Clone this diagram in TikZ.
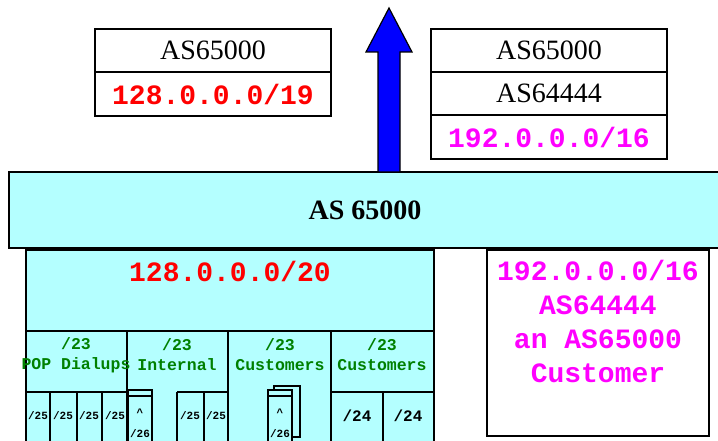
\documentclass[tikz,border=0pt]{standalone}
\usepackage{fontspec}
\usepackage{tikz}
\usetikzlibrary{positioning,calc}
\setmainfont{Liberation Serif}
\setmonofont{Liberation Mono}
\definecolor{asCyan}{HTML}{B4FFFF}
\definecolor{asRed}{HTML}{FF0000}
\definecolor{asMagenta}{HTML}{FF00FF}
\definecolor{asGreen}{HTML}{008000}
\definecolor{asBlue}{HTML}{0000FF}

\begin{document}
\begin{tikzpicture}[x=1pt,y=-1pt,line width=1.5pt,
   box/.style={draw,fill=white,outer sep=0pt,inner sep=0pt,minimum width=236pt,
               font=\fontsize{28}{30}\selectfont},
   ip/.style={inner sep=0pt,font=\fontsize{28}{34}\selectfont\ttfamily\bfseries},
   grp/.style={text=asGreen,align=center,inner sep=0pt,
               font=\fontsize{16.5}{20}\selectfont\ttfamily\bfseries},
   sub/.style={inner sep=0pt,font=\fontsize{11}{12}\selectfont\ttfamily\bfseries}]
  \useasboundingbox (0,0) rectangle (718,441);
  \clip (0,0) rectangle (718,441);

  % announcements going up
  \node[box,minimum height=43pt,anchor=north west] (l1) at (95,29) {AS65000};
  \node[box,minimum height=44pt,below=0pt of l1,ip,text=asRed] (l2) {128.0.0.0/19};
  \node[box,minimum height=43pt,anchor=north west] (r1) at (431,29) {AS65000};
  \node[box,minimum height=43pt,below=0pt of r1] (r2) {AS64444};
  \node[box,minimum height=44pt,below=0pt of r2,ip,text=asMagenta] (r3) {192.0.0.0/16};

  % the AS itself
  \node[draw,fill=asCyan,outer sep=0pt,minimum width=712pt,minimum height=76pt,
        anchor=north west,font=\fontsize{28}{30}\selectfont\bfseries] (core) at (9,172) {AS 65000};
  \coordinate (tip) at (389,8);
  \draw[fill=asBlue,line width=1.2pt] (378,172) -- (378,52) -- (366,52) -- (tip)
        -- (412,52) -- (400,52) -- (400,172) -- cycle;

  % own address block
  \node[draw,fill=asCyan,outer sep=0pt,minimum width=408pt,minimum height=200pt,
        anchor=north west] (pool) at (26,250) {};
  \node[ip,text=asRed] (agg) at (230,271) {128.0.0.0/20};
  \draw (26,331) -- (434,331);
  \foreach \x in {127,228} \draw (\x,331) -- (\x,441);
  \draw[line width=2.5pt] (331,331) -- (331,441);
  \foreach \x/\n in {76/POP Dialups,177/Internal,280/Customers,382/Customers}
    \node[grp] at (\x,355) {/23\\\n};

  % subnets
  \draw (26,392) -- (127,392) (331,392) -- (434,392) (177,392) -- (228,392);
  \foreach \x in {50,77,177,204,383} \draw (\x,392) -- (\x,441);
  \draw[line width=2.5pt] (102,392) -- (102,441);
  \foreach \x in {38,63,89,115,190,216} \node[sub] at (\x,416) {/25};
  \foreach \x in {357,408}
    \node[sub,font=\fontsize{16}{18}\selectfont\ttfamily\bfseries] at (\x,416) {/24};

  % servers
  \draw[fill=asCyan] (128,390) rectangle (152,450);
  \draw (128,396) -- (152,396);
  \node[sub] at (140,413) {\^{}};
  \node[sub] at (140,434) {/26};
  \draw[fill=asCyan] (274,386) rectangle (300,437);
  \draw[fill=asCyan] (268,390) rectangle (292,450);
  \draw (268,396) -- (292,396);
  \node[sub] at (280,413) {\^{}};
  \node[sub] at (280,434) {/26};

  % customer block
  \node[draw,fill=white,outer sep=0pt,minimum width=222pt,minimum height=186pt,
        anchor=north west] (cust) at (487,250) {};
  \node[ip,text=asMagenta,align=center] (custtxt) at (598,321)
        {192.0.0.0/16\\AS64444\\an AS65000\\Customer};
\end{tikzpicture}
\end{document}
